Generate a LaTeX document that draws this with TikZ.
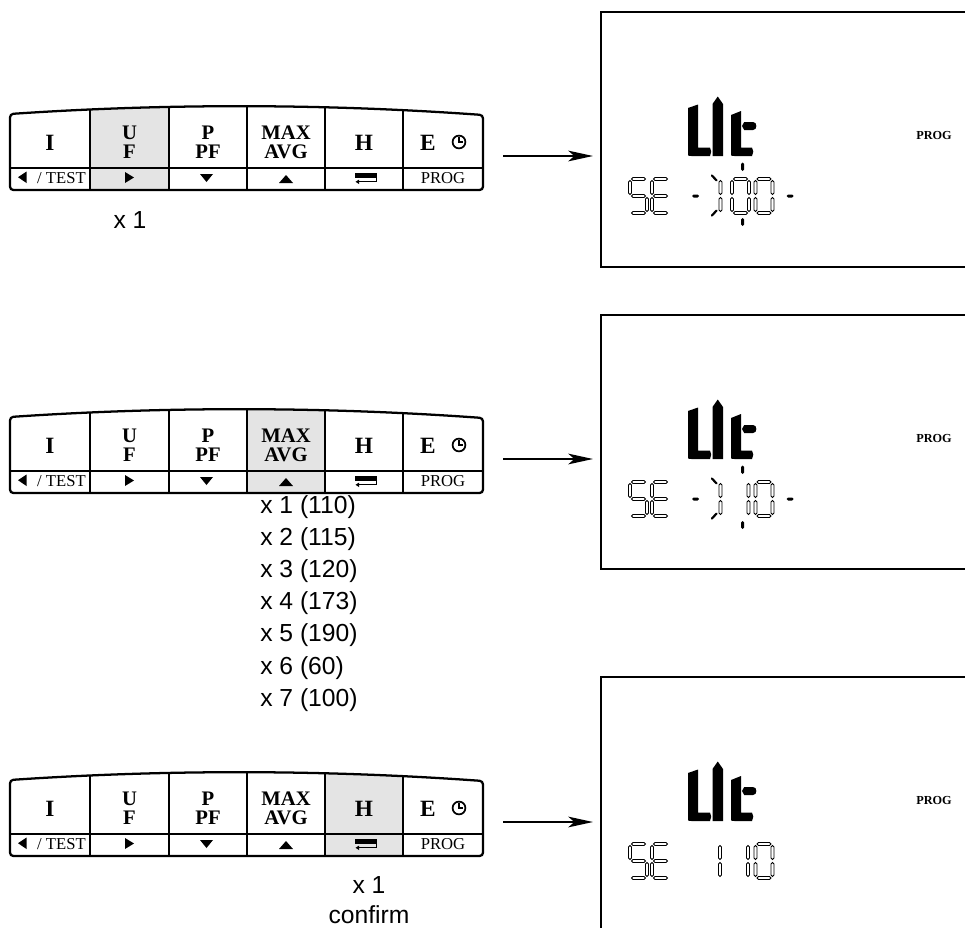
\documentclass[tikz,border=0pt]{standalone}
\usepackage{fontspec}
\setmainfont{Liberation Serif}
\newfontfamily\lsans{Liberation Sans}
\usetikzlibrary{arrows.meta}
\definecolor{keygray}{HTML}{E4E4E4}
\tikzset{
 kpline/.style={line width=1.7pt},
 kpthin/.style={line width=1.1pt},
 kpout/.style={insert path={(10,190) -- (10,114) .. controls (168,103.3) and (325.7,103.7) .. (483,115) -- (483,190) -- cycle}},
 kbig/.style={font=\bfseries\fontsize{17.5}{20}\selectfont, inner sep=0pt, anchor=base},
 kmid/.style={font=\bfseries\fontsize{15.5}{14}\selectfont, inner sep=0pt, align=center},
 ksmall/.style={font=\fontsize{12.5}{14}\selectfont, inner sep=0pt, anchor=base},
 lbl/.style={font=\lsans\fontsize{18.5}{22}\selectfont, inner sep=0pt},
 arr/.style={line width=1.6pt, -{Stealth[length=18.5pt,width=8pt,inset=4.5pt]}},
 lcdbox/.style={line width=0.9pt},
 segst/.style={draw=black, line width=0.55pt, fill=white},
 segfill/.style={fill=black},
 diag/.style={line width=1.6pt, line cap=round},
 prog/.style={font=\bfseries\fontsize{9.2}{11}\selectfont, inner sep=0pt},
}
% segments (px units)
\newcommand\hsg[4][segst]{\path[#1] (#2,#4) -- (#2+1.5,#4-1.5) -- (#3-1.5,#4-1.5) -- (#3,#4) -- (#3-1.5,#4+1.5) -- (#2+1.5,#4+1.5) -- cycle;}
\newcommand\vsg[4][segst]{\path[#1] (#2,#3) -- (#2+1.5,#3+1.5) -- (#2+1.5,#4-1.5) -- (#2,#4) -- (#2-1.5,#4-1.5) -- (#2-1.5,#3+1.5) -- cycle;}
\newcommand\segA[2]{\hsg{#1+1.5}{#1+15.5}{#2}}
\newcommand\segD[2]{\hsg{#1+1.5}{#1+15.5}{#2+34}}
\newcommand\segG[2]{\hsg{#1+1.5}{#1+15.5}{#2+17}}
\newcommand\segF[2]{\vsg{#1}{#2+1.5}{#2+15.5}}
\newcommand\segE[2]{\vsg{#1}{#2+18.5}{#2+32.5}}
\newcommand\segB[2]{\vsg{#1+17}{#2+1.5}{#2+15.5}}
\newcommand\segC[2]{\vsg{#1+17}{#2+18.5}{#2+32.5}}
\newcommand\dfive[2]{\segA{#1}{#2}\segF{#1}{#2}\segG{#1}{#2}\segC{#1}{#2}\segD{#1}{#2}}
\newcommand\dEE[2]{\segA{#1}{#2}\segF{#1}{#2}\segG{#1}{#2}\segE{#1}{#2}\segD{#1}{#2}}
\newcommand\dzero[2]{\segA{#1}{#2}\segB{#1}{#2}\segC{#1}{#2}\segD{#1}{#2}\segE{#1}{#2}\segF{#1}{#2}}
\newcommand\done[2]{\segB{#1}{#2}\segC{#1}{#2}}
% keypad: #1 shift, #2/#3 gray column, #4 name prefix
\newcommand\keypad[4]{%
\begin{scope}[shift={(0,#1)}]
 \begin{scope}
  \clip[kpout];
  \fill[keygray] (#2,95) rectangle (#3,195);
  \foreach \xx in {90,169,247,325,403} \draw[kpline] (\xx,95) -- (\xx,195);
  \draw[kpthin] (0,168) -- (500,168);
 \end{scope}
 \draw[kpline,rounded corners=2.5pt][kpout];
 \node[kbig] (#4i) at (50,150) {I};
 \node[kmid] (#4u) at (129.5,142.5) {U\\F};
 \node[kmid] (#4p) at (208,142.5) {P\\PF};
 \node[kmid] (#4m) at (286,142.5) {MAX\\AVG};
 \node[kbig] (#4h) at (364,150) {H};
 \node[kbig] (#4e) at (428,150) {E};
 \draw[line width=1.3pt] (459,142) circle[radius=4.8pt];
 \draw[line width=1pt] (459,137) -- (459,142) -- (463,142);
 \fill (18,177.2) -- (26.5,171.5) -- (26.5,183) -- cycle;
 \node[ksmall] (#4t) at (61.5,183.5) {/ TEST};
 \fill (125,172) -- (134,177.5) -- (125,183) -- cycle;
 \fill (200,174) -- (213,174) -- (206.5,182) -- cycle;
 \fill (279,183) -- (293,183) -- (286,175) -- cycle;
 \fill (355,172.5) rectangle (377,178);
 \draw[line width=0.8pt] (376.3,178) -- (376.3,181.8) -- (358,181.8);
 \fill (355.5,181.8) -- (359,179.6) -- (359,184) -- cycle;
 \node[ksmall] (#4g) at (443,183.5) {PROG};
\end{scope}}
% lcd: #1 shift, #2 prefix, #3 bottom y of box
\newcommand\lcdbase[3]{%
\begin{scope}[shift={(0,#1)}]
 \draw[lcdbox] (975,12) -- (601,12) -- (601,#3) -- (975,#3);
 \fill (698,104.5) -- (698,147.5) -- (710,147.5) -- (711.2,151.7) -- (710,156) -- (691.5,156) .. controls (688,156) .. (688,152.5) -- (688,108) -- cycle;
 \fill (712.5,104) -- (717.75,96.5) -- (723,104) -- (723,156) -- (712.5,156) -- cycle;
 \fill (741,111) -- (741,147.5) -- (752,147.5) -- (753.3,151.7) -- (752,156) -- (734.5,156) .. controls (731,156) .. (731,152.5) -- (731,115) -- cycle;
 \fill (742,126) -- (744.2,122) -- (753,122) .. controls (757.5,122) and (757.5,130) .. (753,130) -- (744.2,130) -- cycle;
 \node[prog] (#2prog) at (934,135) {PROG};
 \dfive{630}{179}
 \dEE{652}{179}
\end{scope}}
\begin{document}
\begin{tikzpicture}[x=0.75pt,y=-0.75pt]
\path[use as bounding box] (0,0) rectangle (965,928);
% keypads
\keypad{0}{90}{169}{ka}
\keypad{303}{247}{325}{kb}
\keypad{666}{325}{403}{kc}
% arrows
\coordinate (a1s) at (503,156); \coordinate (a1e) at (593,156);
\coordinate (a2s) at (503,459); \coordinate (a2e) at (593,459);
\coordinate (a3s) at (503,822); \coordinate (a3e) at (593,822);
\draw[arr] (a1s) -- (a1e);
\draw[arr] (a2s) -- (a2e);
\draw[arr] (a3s) -- (a3e);
% labels
\node[lbl,anchor=base] (t1) at (130,228) {x 1};
\node[lbl,anchor=base west] (l1) at (260,513) {x 1 (110)};
\node[lbl,anchor=base west] (l2) at (260,545.2) {x 2 (115)};
\node[lbl,anchor=base west] (l3) at (260,577.4) {x 3 (120)};
\node[lbl,anchor=base west] (l4) at (260,609.6) {x 4 (173)};
\node[lbl,anchor=base west] (l5) at (260,641.8) {x 5 (190)};
\node[lbl,anchor=base west] (l6) at (260,674) {x 6 (60)};
\node[lbl,anchor=base west] (l7) at (260,706.2) {x 7 (100)};
\node[lbl,anchor=base] (t3) at (369,893) {x 1};
\node[lbl,anchor=base] (t4) at (369,923) {confirm};
% LCD 1
\lcdbase{0}{da}{267}
\hsg[segfill]{692}{699}{196}
\done{703.5}{179}
\draw[diag] (711.8,175.5) -- (716.5,180.3);
\draw[diag] (711.8,215.5) -- (716.5,210.7);
\dzero{732}{179}
\vsg[segfill]{742.5}{162.5}{171}
\vsg[segfill]{742.5}{218}{226}
\dzero{755.5}{179}
\hsg[segfill]{786.5}{793.5}{196}
% LCD 2
\begin{scope}[shift={(0,303)}]
\hsg[segfill]{692}{699}{196}
\done{703.5}{179}
\draw[diag] (711.8,175.5) -- (716.5,180.3);
\draw[diag] (711.8,215.5) -- (716.5,210.7);
\done{731.5}{179}
\vsg[segfill]{742.5}{162.5}{171}
\vsg[segfill]{742.5}{218}{226}
\dzero{755.5}{179}
\hsg[segfill]{786.5}{793.5}{196}
\end{scope}
\lcdbase{303}{db}{266}
% LCD 3
\lcdbase{665}{dc}{300}
\begin{scope}[shift={(0,665)}]
\done{703}{179}
\done{731}{179}
\dzero{755.5}{179}
\end{scope}
\end{tikzpicture}
\end{document}
